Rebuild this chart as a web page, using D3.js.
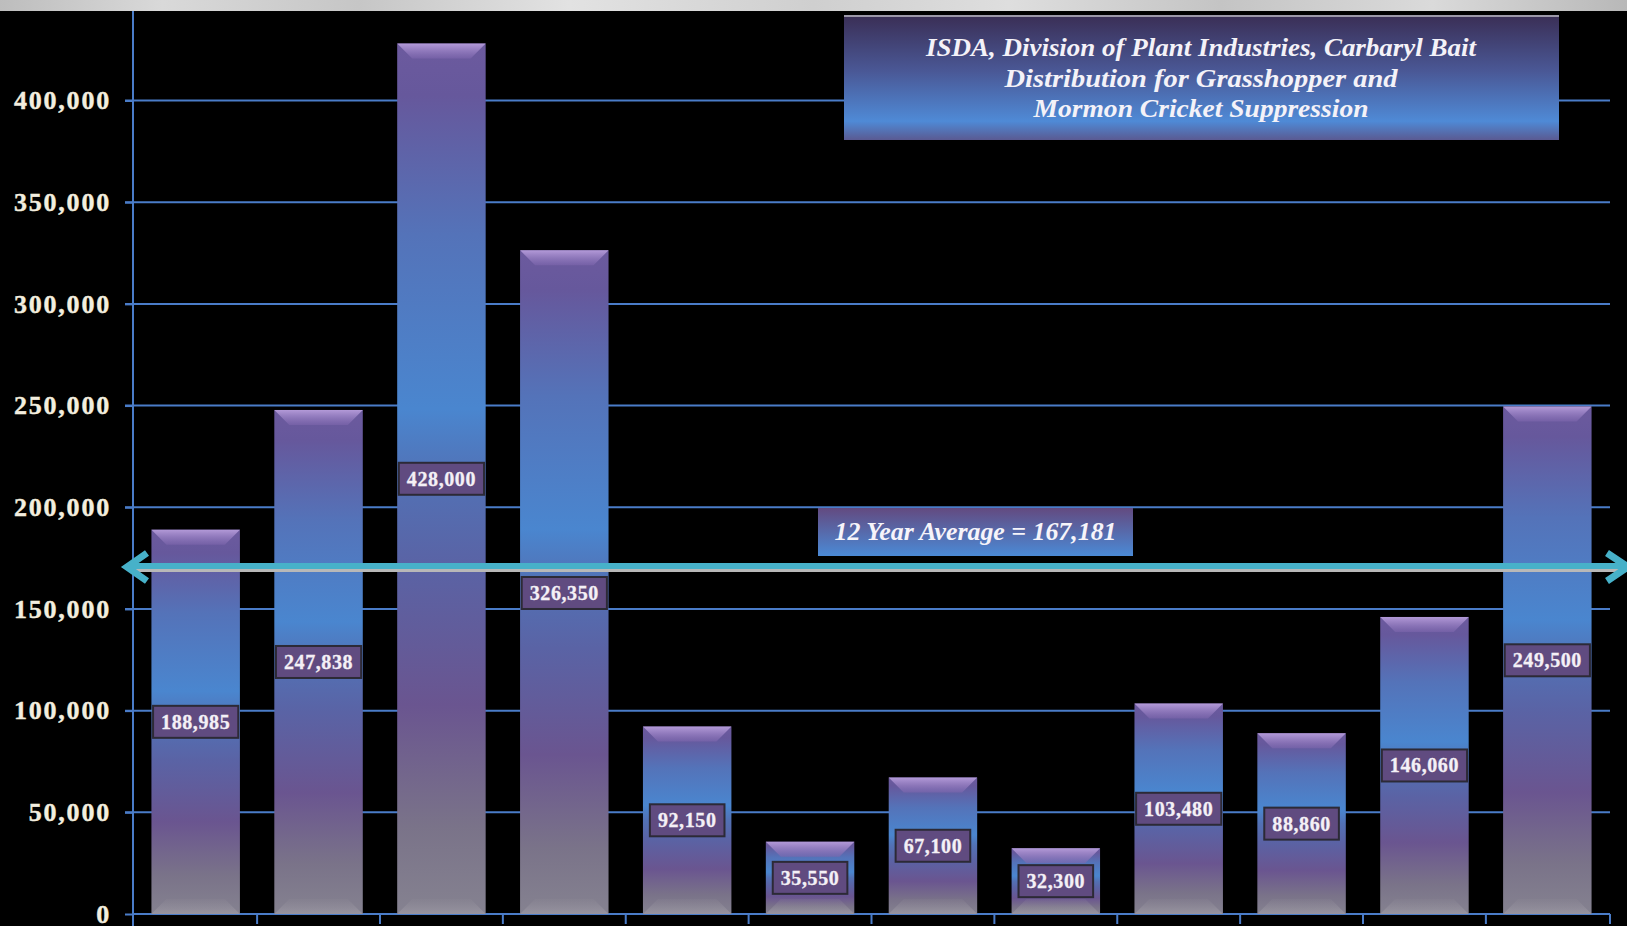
<!DOCTYPE html>
<html>
<head>
<meta charset="utf-8">
<script src="https://cdn.jsdelivr.net/npm/d3@7"></script>
<style>
  html, body { margin: 0; padding: 0; background: #000; overflow: hidden; }
  svg { display: block; }
</style>
</head>
<body>
<div id="paper"></div>
<script>

// chart data.

const categories = ["1", "2", "3", "4", "5", "6", "7", "8", "9", "10", "11", "12"]
const pounds = [188985, 247838, 428000, 326350, 92150, 35550, 67100, 32300, 103480, 88860, 146060, 249500]
const y_ticks = [0, 50000, 100000, 150000, 200000, 250000, 300000, 350000, 400000]
const title_lines = [
    "ISDA, Division of Plant Industries, Carbaryl Bait",
    "Distribution  for Grasshopper  and",
    "Mormon Cricket Suppression"
]

const average = Math.round(d3.mean(pounds))

// canvas.

const W = 1627, H = 926
const left = 133, right = 1610, bottom = 914

const svg = d3.select("#paper")
    .append("svg")
    .attr("id", "canvas")
    .attr("width", W)
    .attr("height", H)
    .style("background-color", "black")

const defs = svg.append("defs")

function gradient(id, stops, x2 = 0, y2 = 1) {
    let g = defs.append("linearGradient").attr("id", id)
        .attr("x1", 0).attr("y1", 0).attr("x2", x2).attr("y2", y2)
    stops.forEach(s => g.append("stop").attr("offset", s[0]).attr("stop-color", s[1]).attr("stop-opacity", s[2] ?? 1))
}

gradient("bar_fill", [
    [0, "#6c5a9e"], [0.06, "#66589c"], [0.22, "#5473b9"], [0.42, "#4a86cf"], [0.5, "#5271b5"],
    [0.6, "#5a63a5"], [0.76, "#6a5590"], [0.9, "#7a7389"], [1, "#858290"]
])
gradient("bevel_top", [[0, "#b39ad8"], [1, "#7d66ad", 0.6]])
gradient("bevel_bottom", [[0, "#9a96a0", 0.1], [1, "#a6a2ad", 0.55]])
gradient("title_fill", [
    [0, "#3a2e55"], [0.45, "#4a5896"], [0.85, "#4f8ad6"], [1, "#5a5a92"]
])
gradient("avg_fill", [[0, "#634a80"], [1, "#4b8ad6"]])
gradient("strip_fill", [
    [0, "#bdbdbd"], [0.1, "#d9d9d9"], [0.22, "#c6c6c6"], [0.35, "#e2e2e2"], [0.5, "#cfcfcf"],
    [0.62, "#dedede"], [0.75, "#c4c4c4"], [0.88, "#dadada"], [1, "#b8b8b8"]
], 1, 0)

// grey marbled strip at the very top.

svg.append("rect").attr("x", 0).attr("y", 0).attr("width", W).attr("height", 11)
    .style("fill", "url(#strip_fill)")

// scales.

const x = d3.scaleBand().domain(categories).range([left, right]).paddingInner(0.28).paddingOuter(0.15)
const y = d3.scaleLinear().domain([0, 400000]).range([bottom, 100.5])

// gridlines.

svg.append("g")
    .selectAll(".grid")
    .data(y_ticks.filter(d => d > 0))
    .join("line")
    .attr("class", "grid")
    .attr("x1", left - 8).attr("x2", right)
    .attr("y1", d => y(d)).attr("y2", d => y(d))
    .style("stroke", "#4a7cc8").style("stroke-width", 2)

// y axis.

const y_axis = d3.axisLeft(y).tickValues(y_ticks).tickSize(8).tickPadding(14).tickFormat(d3.format(","))
svg.append("g")
    .attr("transform", `translate(${left},0)`)
    .call(y_axis)
    .call(g => g.select(".domain").remove())
    .call(g => g.selectAll("line").style("stroke", "#4a7cc8").style("stroke-width", 2))
    .call(g => g.selectAll("text")
        .style("font-family", "'Liberation Serif', serif")
        .style("font-weight", "bold")
        .style("font-size", "26px")
        .style("letter-spacing", "1.8px")
        .style("fill", "#f3eedf")
        .style("stroke", "#f3eedf").style("stroke-width", 0.4))

svg.append("line")
    .attr("x1", left).attr("x2", left).attr("y1", 11).attr("y2", H)
    .style("stroke", "#4a7cc8").style("stroke-width", 2)

// bottom axis with ticks between the categories.

svg.append("line")
    .attr("x1", left).attr("x2", right).attr("y1", bottom).attr("y2", bottom)
    .style("stroke", "#4a7cc8").style("stroke-width", 2)

const edges = categories.map(c => x(c) - x.step() * x.paddingInner() / 2)
edges[0] = left
edges.push(right)
svg.append("g")
    .selectAll(".x_tick")
    .data(edges)
    .join("line")
    .attr("class", "x_tick")
    .attr("x1", d => d).attr("x2", d => d)
    .attr("y1", bottom).attr("y2", bottom + 10)
    .style("stroke", "#4a7cc8").style("stroke-width", 2)

// bars with a bevelled top and bottom.

const bars = svg.append("g")
    .selectAll(".bar")
    .data(pounds)
    .join("g")
    .attr("class", "bar")

bars.append("rect")
    .attr("x", (d, i) => x(categories[i]))
    .attr("y", d => y(d))
    .attr("width", x.bandwidth())
    .attr("height", d => y(0) - y(d))
    .style("fill", "url(#bar_fill)")

const bevel = 15
bars.append("polygon")
    .attr("points", (d, i) => {
        let x0 = x(categories[i]), x1 = x0 + x.bandwidth(), y0 = y(d)
        return [[x0, y0], [x1, y0], [x1 - bevel, y0 + bevel], [x0 + bevel, y0 + bevel]].join(" ")
    })
    .style("fill", "url(#bevel_top)")

bars.append("polygon")
    .attr("points", (d, i) => {
        let x0 = x(categories[i]), x1 = x0 + x.bandwidth(), y0 = y(0)
        return [[x0, y0], [x1, y0], [x1 - bevel, y0 - bevel], [x0 + bevel, y0 - bevel]].join(" ")
    })
    .style("fill", "url(#bevel_bottom)")

// average arrow position, drawn later so it sits over the bars.

const arrow_y = y(average) - 7

// value labels in the middle of each bar, pushed below the arrow when they would touch it.

function label_y(d) {
    let mid = (y(d) + y(0)) / 2
    if (Math.abs(mid - arrow_y) < 26) mid = arrow_y + 26
    return mid
}

const labels = svg.append("g")
    .selectAll(".value_label")
    .data(pounds)
    .join("g")
    .attr("class", "value_label")
    .attr("transform", (d, i) => `translate(${x(categories[i]) + x.bandwidth() / 2},${label_y(d)})`)

labels.append("text")
    .attr("text-anchor", "middle")
    .attr("dy", "0.35em")
    .style("font-family", "'Liberation Serif', serif")
    .style("font-weight", "bold")
    .style("font-size", "20px")
    .style("letter-spacing", "0.6px")
    .style("fill", "#f4f0f6")
    .style("stroke", "#f4f0f6").style("stroke-width", 0.3)
    .text(d => d3.format(",")(d))

labels.each(function () {
    let g = d3.select(this)
    let w = g.select("text").node().getComputedTextLength() + 16
    g.insert("rect", "text")
        .attr("x", -w / 2).attr("y", -16)
        .attr("width", w).attr("height", 32)
        .style("fill", "#604b80")
        .style("stroke", "#2c2a36").style("stroke-width", 2)
})

// average arrow.

const arrow = svg.append("g").attr("class", "average_arrow")

arrow.append("line")
    .attr("x1", left - 4).attr("x2", W).attr("y1", arrow_y + 3.5).attr("y2", arrow_y + 3.5)
    .style("stroke", "#b8b8b8").style("stroke-width", 3)
arrow.append("line")
    .attr("x1", left - 6).attr("x2", W).attr("y1", arrow_y - 1).attr("y2", arrow_y - 1)
    .style("stroke", "#47b1c9").style("stroke-width", 6)
arrow.append("polyline")
    .attr("points", [[left + 14, arrow_y - 14], [left - 6, arrow_y], [left + 14, arrow_y + 14]].join(" "))
    .style("fill", "none").style("stroke", "#47b1c9").style("stroke-width", 7)
    .style("stroke-linejoin", "miter")
arrow.append("polyline")
    .attr("points", [[W - 20, arrow_y - 14], [W + 1, arrow_y], [W - 20, arrow_y + 14]].join(" "))
    .style("fill", "none").style("stroke", "#47b1c9").style("stroke-width", 7)
    .style("stroke-linejoin", "miter")

// average label box.

const avg_box = svg.append("g").attr("transform", `translate(818,${arrow_y - 59})`)
avg_box.append("rect")
    .attr("width", 315).attr("height", 48)
    .style("fill", "url(#avg_fill)")
avg_box.append("text")
    .attr("x", 157.5).attr("y", 32)
    .attr("text-anchor", "middle")
    .attr("textLength", 282).attr("lengthAdjust", "spacingAndGlyphs")
    .style("font-family", "'Liberation Serif', serif")
    .style("font-style", "italic")
    .style("font-weight", "bold")
    .style("font-size", "26px")
    .style("fill", "#f6f4fa")
    .text(`12 Year Average = ${d3.format(",")(average)}`)

// title box.

const title_box = svg.append("g").attr("transform", "translate(844,15)")
title_box.append("rect")
    .attr("width", 715).attr("height", 125)
    .style("fill", "url(#title_fill)")
title_box.append("line")
    .attr("x1", 0).attr("x2", 715).attr("y1", 1).attr("y2", 1)
    .style("stroke", "#9c98a8").style("stroke-width", 2)

const title_widths = [550, 393, 335]
title_box.selectAll(".title_line")
    .data(title_lines)
    .join("text")
    .attr("class", "title_line")
    .attr("x", 357)
    .attr("y", (d, i) => 41 + i * 30.5)
    .attr("text-anchor", "middle")
    .attr("textLength", (d, i) => title_widths[i]).attr("lengthAdjust", "spacingAndGlyphs")
    .style("font-family", "'Liberation Serif', serif")
    .style("font-style", "italic")
    .style("font-weight", "bold")
    .style("font-size", "25px")
    .style("fill", "#f4f2f8")
    .text(d => d)

</script>
</body>
</html>
